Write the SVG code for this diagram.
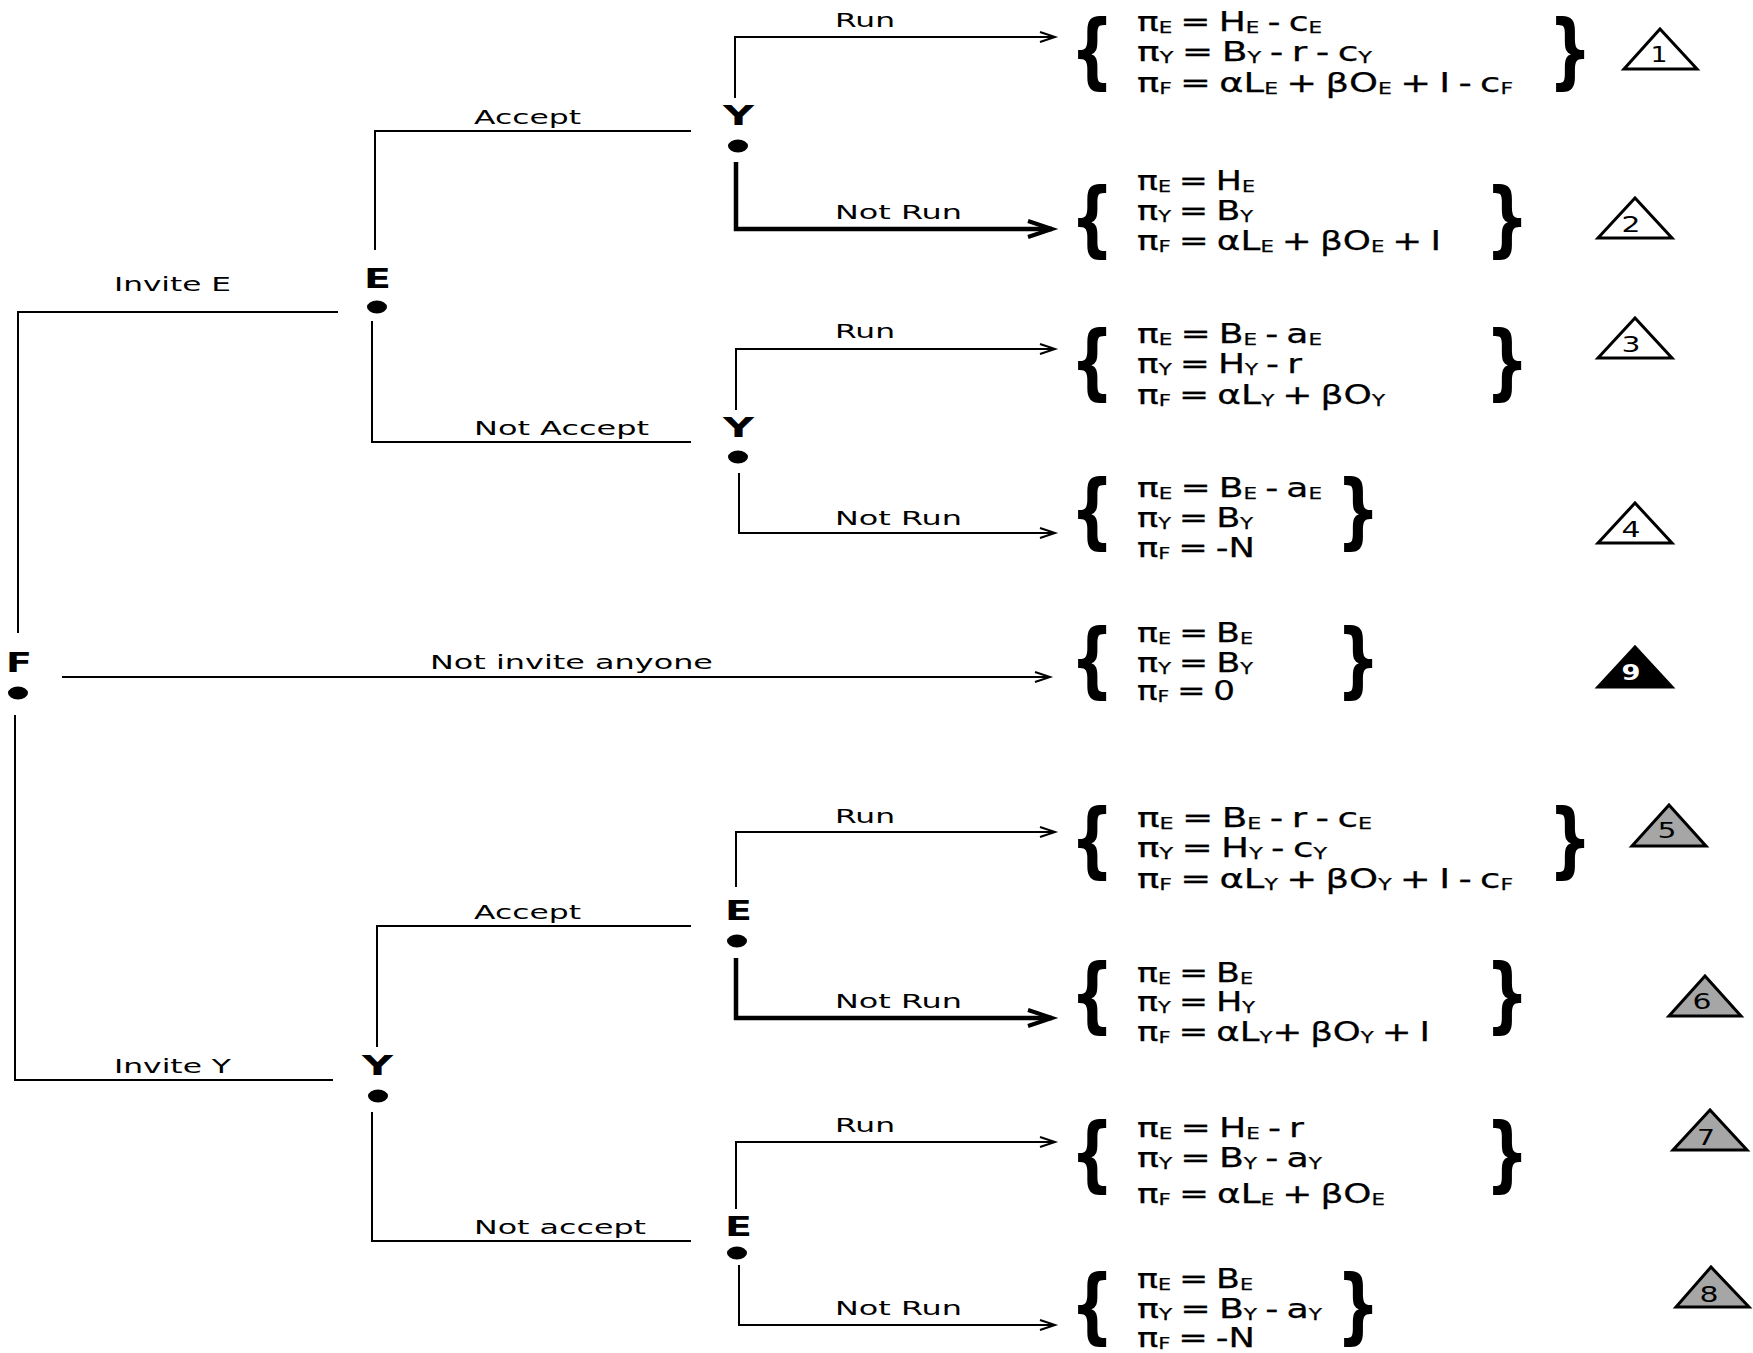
<svg xmlns="http://www.w3.org/2000/svg" width="1753" height="1353" viewBox="0 0 1753 1353">
<defs>
<style>
.ln{fill:none;stroke:#000;stroke-width:2}
.th{fill:none;stroke:#000;stroke-width:4.5}
.lb{font-family:"DejaVu Sans",sans-serif;font-size:20px;fill:#000}
.nd{font-family:"DejaVu Sans",sans-serif;font-size:27px;font-weight:bold;fill:#000}
.pf{font-family:"DejaVu Sans",sans-serif;font-size:27px;fill:#000;stroke:#000;stroke-width:0.25;word-spacing:-2.5px}
.s{font-size:16px;baseline-shift:-2px}
.br{font-family:"DejaVu Sans",sans-serif;font-size:81px;font-weight:bold;fill:#000;text-anchor:middle}
.tri{stroke:#000;stroke-width:3;stroke-linejoin:miter}
.num{font-family:"DejaVu Sans",sans-serif;font-size:21px;fill:#000;text-anchor:middle}
.dot{fill:#000}
</style>
<marker id="ah" markerUnits="userSpaceOnUse" markerWidth="20" markerHeight="14" viewBox="0 0 20 14" refX="16" refY="7" orient="auto" overflow="visible">
<path d="M1,2 L16,7 L1,12" fill="none" stroke="#000" stroke-width="2"/>
</marker>
<marker id="ahb" markerUnits="userSpaceOnUse" markerWidth="30" markerHeight="20" viewBox="0 0 30 20" refX="26" refY="10" orient="auto" overflow="visible">
<path d="M2,2 L26,10 L2,18" fill="none" stroke="#000" stroke-width="4"/>
</marker>
</defs>
<rect width="1753" height="1353" fill="#fff"/>

<g id="connectors">
<path class="ln" d="M18,633 V312 H338"/>
<path class="ln" d="M375,250 V131 H691"/>
<path class="ln" d="M372,321 V442 H691"/>
<path class="ln" d="M735,98 V37 H1055" marker-end="url(#ah)"/>
<path class="th" d="M736,162 V229 H1052" marker-end="url(#ahb)"/>
<path class="ln" d="M736,410 V349 H1055" marker-end="url(#ah)"/>
<path class="ln" d="M739,473 V533 H1055" marker-end="url(#ah)"/>
<path class="ln" d="M62,677 H1050" marker-end="url(#ah)"/>
<path class="ln" d="M15,715 V1080 H333"/>
<path class="ln" d="M377,1047 V926 H691"/>
<path class="ln" d="M372,1112 V1241 H691"/>
<path class="ln" d="M736,887 V832 H1055" marker-end="url(#ah)"/>
<path class="th" d="M736,958 V1018 H1052" marker-end="url(#ahb)"/>
<path class="ln" d="M736,1209 V1142 H1055" marker-end="url(#ah)"/>
<path class="ln" d="M739,1265 V1325 H1055" marker-end="url(#ah)"/>

<text class="lb" x="114" y="291" textLength="117" lengthAdjust="spacingAndGlyphs">Invite E</text>
<text class="lb" x="474" y="124" textLength="107" lengthAdjust="spacingAndGlyphs">Accept</text>
<text class="lb" x="474" y="435" textLength="175" lengthAdjust="spacingAndGlyphs">Not Accept</text>
<text class="lb" x="835" y="27" textLength="60" lengthAdjust="spacingAndGlyphs">Run</text>
<text class="lb" x="835" y="219" textLength="127" lengthAdjust="spacingAndGlyphs">Not Run</text>
<text class="lb" x="835" y="338" textLength="60" lengthAdjust="spacingAndGlyphs">Run</text>
<text class="lb" x="835" y="525" textLength="127" lengthAdjust="spacingAndGlyphs">Not Run</text>
<text class="lb" x="430" y="669" textLength="283" lengthAdjust="spacingAndGlyphs">Not invite anyone</text>
<text class="lb" x="474" y="919" textLength="107" lengthAdjust="spacingAndGlyphs">Accept</text>
<text class="lb" x="114" y="1073" textLength="117" lengthAdjust="spacingAndGlyphs">Invite Y</text>
<text class="lb" x="474" y="1234" textLength="172" lengthAdjust="spacingAndGlyphs">Not accept</text>
<text class="lb" x="835" y="823" textLength="60" lengthAdjust="spacingAndGlyphs">Run</text>
<text class="lb" x="835" y="1008" textLength="127" lengthAdjust="spacingAndGlyphs">Not Run</text>
<text class="lb" x="835" y="1132" textLength="60" lengthAdjust="spacingAndGlyphs">Run</text>
<text class="lb" x="835" y="1315" textLength="127" lengthAdjust="spacingAndGlyphs">Not Run</text>
</g>

<g id="node-F">
<text class="nd" x="6" y="672" textLength="26" lengthAdjust="spacingAndGlyphs">F</text>
<ellipse class="dot" cx="18" cy="693" rx="10" ry="6.5"/>
</g>
<g id="node-E1">
<text class="nd" x="364" y="288" textLength="27" lengthAdjust="spacingAndGlyphs">E</text>
<ellipse class="dot" cx="377" cy="307" rx="10" ry="6.5"/>
</g>
<g id="node-Y1">
<text class="nd" x="723" y="125" textLength="31" lengthAdjust="spacingAndGlyphs">Y</text>
<ellipse class="dot" cx="738" cy="146" rx="10" ry="6.5"/>
</g>
<g id="node-Y2">
<text class="nd" x="723" y="437" textLength="31" lengthAdjust="spacingAndGlyphs">Y</text>
<ellipse class="dot" cx="738" cy="457" rx="10" ry="6.5"/>
</g>
<g id="node-Y3">
<text class="nd" x="362" y="1075" textLength="31" lengthAdjust="spacingAndGlyphs">Y</text>
<ellipse class="dot" cx="378" cy="1096" rx="10" ry="6.5"/>
</g>
<g id="node-E2">
<text class="nd" x="725" y="920" textLength="27" lengthAdjust="spacingAndGlyphs">E</text>
<ellipse class="dot" cx="737" cy="941" rx="10" ry="6.5"/>
</g>
<g id="node-E3">
<text class="nd" x="725" y="1236" textLength="27" lengthAdjust="spacingAndGlyphs">E</text>
<ellipse class="dot" cx="737" cy="1253" rx="10" ry="6.5"/>
</g>

<g id="outcome-1">
<text class="br" transform="translate(1092,78) scale(0.75,1)">{</text>
<text class="pf" x="1137" y="31" textLength="185" lengthAdjust="spacingAndGlyphs">π<tspan class="s">E</tspan> = H<tspan class="s">E</tspan> - c<tspan class="s">E</tspan></text>
<text class="pf" x="1137" y="61" textLength="235" lengthAdjust="spacingAndGlyphs">π<tspan class="s">Y</tspan> = B<tspan class="s">Y</tspan> - r - c<tspan class="s">Y</tspan></text>
<text class="pf" x="1137" y="92" textLength="376" lengthAdjust="spacingAndGlyphs">π<tspan class="s">F</tspan> = αL<tspan class="s">E</tspan> + βO<tspan class="s">E</tspan> + I - c<tspan class="s">F</tspan></text>
<text class="br" transform="translate(1570,78) scale(0.75,1)">}</text>
<polygon class="tri" points="1660,29 1624,69 1697,69" fill="#fff"/>
<text class="num" x="1659" y="62" textLength="17" lengthAdjust="spacingAndGlyphs">1</text>
</g>

<g id="outcome-2">
<text class="br" transform="translate(1092,246) scale(0.75,1)">{</text>
<text class="pf" x="1137" y="190" textLength="118" lengthAdjust="spacingAndGlyphs">π<tspan class="s">E</tspan> = H<tspan class="s">E</tspan></text>
<text class="pf" x="1137" y="220" textLength="116" lengthAdjust="spacingAndGlyphs">π<tspan class="s">Y</tspan> = B<tspan class="s">Y</tspan></text>
<text class="pf" x="1137" y="250" textLength="304" lengthAdjust="spacingAndGlyphs">π<tspan class="s">F</tspan> = αL<tspan class="s">E</tspan> + βO<tspan class="s">E</tspan> + I</text>
<text class="br" transform="translate(1507,246) scale(0.75,1)">}</text>
<polygon class="tri" points="1635,198 1598,238 1672,238" fill="#fff"/>
<text class="num" x="1631" y="232" textLength="19" lengthAdjust="spacingAndGlyphs">2</text>
</g>

<g id="outcome-3">
<text class="br" transform="translate(1092,389) scale(0.75,1)">{</text>
<text class="pf" x="1137" y="343" textLength="185" lengthAdjust="spacingAndGlyphs">π<tspan class="s">E</tspan> = B<tspan class="s">E</tspan> - a<tspan class="s">E</tspan></text>
<text class="pf" x="1137" y="373" textLength="165" lengthAdjust="spacingAndGlyphs">π<tspan class="s">Y</tspan> = H<tspan class="s">Y</tspan> - r</text>
<text class="pf" x="1137" y="404" textLength="248" lengthAdjust="spacingAndGlyphs">π<tspan class="s">F</tspan> = αL<tspan class="s">Y</tspan> + βO<tspan class="s">Y</tspan></text>
<text class="br" transform="translate(1507,389) scale(0.75,1)">}</text>
<polygon class="tri" points="1635,318 1598,358 1672,358" fill="#fff"/>
<text class="num" x="1631" y="352" textLength="19" lengthAdjust="spacingAndGlyphs">3</text>
</g>

<g id="outcome-4">
<text class="br" transform="translate(1092,538) scale(0.75,1)">{</text>
<text class="pf" x="1137" y="497" textLength="185" lengthAdjust="spacingAndGlyphs">π<tspan class="s">E</tspan> = B<tspan class="s">E</tspan> - a<tspan class="s">E</tspan></text>
<text class="pf" x="1137" y="527" textLength="116" lengthAdjust="spacingAndGlyphs">π<tspan class="s">Y</tspan> = B<tspan class="s">Y</tspan></text>
<text class="pf" x="1137" y="557" textLength="118" lengthAdjust="spacingAndGlyphs">π<tspan class="s">F</tspan> = -N</text>
<text class="br" transform="translate(1358,538) scale(0.75,1)">}</text>
<polygon class="tri" points="1635,503 1598,543 1672,543" fill="#fff"/>
<text class="num" x="1631" y="537" textLength="19" lengthAdjust="spacingAndGlyphs">4</text>
</g>

<g id="outcome-9">
<text class="br" transform="translate(1092,687) scale(0.75,1)">{</text>
<text class="pf" x="1137" y="642" textLength="116" lengthAdjust="spacingAndGlyphs">π<tspan class="s">E</tspan> = B<tspan class="s">E</tspan></text>
<text class="pf" x="1137" y="672" textLength="116" lengthAdjust="spacingAndGlyphs">π<tspan class="s">Y</tspan> = B<tspan class="s">Y</tspan></text>
<text class="pf" x="1137" y="700" textLength="98" lengthAdjust="spacingAndGlyphs">π<tspan class="s">F</tspan> = 0</text>
<text class="br" transform="translate(1358,687) scale(0.75,1)">}</text>
<polygon class="tri" points="1635,647 1598,687 1672,687" fill="#000"/>
<text class="num" x="1631" y="680" textLength="19" lengthAdjust="spacingAndGlyphs" style="fill:#fff;font-weight:bold">9</text>
</g>

<g id="outcome-5">
<text class="br" transform="translate(1092,867) scale(0.75,1)">{</text>
<text class="pf" x="1137" y="827" textLength="235" lengthAdjust="spacingAndGlyphs">π<tspan class="s">E</tspan> = B<tspan class="s">E</tspan> - r - c<tspan class="s">E</tspan></text>
<text class="pf" x="1137" y="857" textLength="190" lengthAdjust="spacingAndGlyphs">π<tspan class="s">Y</tspan> = H<tspan class="s">Y</tspan> - c<tspan class="s">Y</tspan></text>
<text class="pf" x="1137" y="888" textLength="376" lengthAdjust="spacingAndGlyphs">π<tspan class="s">F</tspan> = αL<tspan class="s">Y</tspan> + βO<tspan class="s">Y</tspan> + I - c<tspan class="s">F</tspan></text>
<text class="br" transform="translate(1570,867) scale(0.75,1)">}</text>
<polygon class="tri" points="1669,805 1632,846 1706,846" fill="#a6a6a6"/>
<text class="num" x="1667" y="838" textLength="19" lengthAdjust="spacingAndGlyphs">5</text>
</g>

<g id="outcome-6">
<text class="br" transform="translate(1092,1022) scale(0.75,1)">{</text>
<text class="pf" x="1137" y="982" textLength="116" lengthAdjust="spacingAndGlyphs">π<tspan class="s">E</tspan> = B<tspan class="s">E</tspan></text>
<text class="pf" x="1137" y="1011" textLength="118" lengthAdjust="spacingAndGlyphs">π<tspan class="s">Y</tspan> = H<tspan class="s">Y</tspan></text>
<text class="pf" x="1137" y="1041" textLength="293" lengthAdjust="spacingAndGlyphs">π<tspan class="s">F</tspan> = αL<tspan class="s">Y</tspan>+ βO<tspan class="s">Y</tspan> + I</text>
<text class="br" transform="translate(1507,1022) scale(0.75,1)">}</text>
<polygon class="tri" points="1705,976 1669,1016 1741,1016" fill="#a6a6a6"/>
<text class="num" x="1702" y="1009" textLength="19" lengthAdjust="spacingAndGlyphs">6</text>
</g>

<g id="outcome-7">
<text class="br" transform="translate(1092,1181) scale(0.75,1)">{</text>
<text class="pf" x="1137" y="1137" textLength="167" lengthAdjust="spacingAndGlyphs">π<tspan class="s">E</tspan> = H<tspan class="s">E</tspan> - r</text>
<text class="pf" x="1137" y="1167" textLength="185" lengthAdjust="spacingAndGlyphs">π<tspan class="s">Y</tspan> = B<tspan class="s">Y</tspan> - a<tspan class="s">Y</tspan></text>
<text class="pf" x="1137" y="1203" textLength="248" lengthAdjust="spacingAndGlyphs">π<tspan class="s">F</tspan> = αL<tspan class="s">E</tspan> + βO<tspan class="s">E</tspan></text>
<text class="br" transform="translate(1507,1181) scale(0.75,1)">}</text>
<polygon class="tri" points="1710,1110 1673,1150 1747,1150" fill="#a6a6a6"/>
<text class="num" x="1706" y="1145" textLength="18" lengthAdjust="spacingAndGlyphs">7</text>
</g>

<g id="outcome-8">
<text class="br" transform="translate(1092,1333) scale(0.75,1)">{</text>
<text class="pf" x="1137" y="1288" textLength="116" lengthAdjust="spacingAndGlyphs">π<tspan class="s">E</tspan> = B<tspan class="s">E</tspan></text>
<text class="pf" x="1137" y="1318" textLength="185" lengthAdjust="spacingAndGlyphs">π<tspan class="s">Y</tspan> = B<tspan class="s">Y</tspan> - a<tspan class="s">Y</tspan></text>
<text class="pf" x="1137" y="1347" textLength="118" lengthAdjust="spacingAndGlyphs">π<tspan class="s">F</tspan> = -N</text>
<text class="br" transform="translate(1358,1333) scale(0.75,1)">}</text>
<polygon class="tri" points="1711,1267 1676,1307 1749,1307" fill="#a6a6a6"/>
<text class="num" x="1709" y="1302" textLength="19" lengthAdjust="spacingAndGlyphs">8</text>
</g>
</svg>
